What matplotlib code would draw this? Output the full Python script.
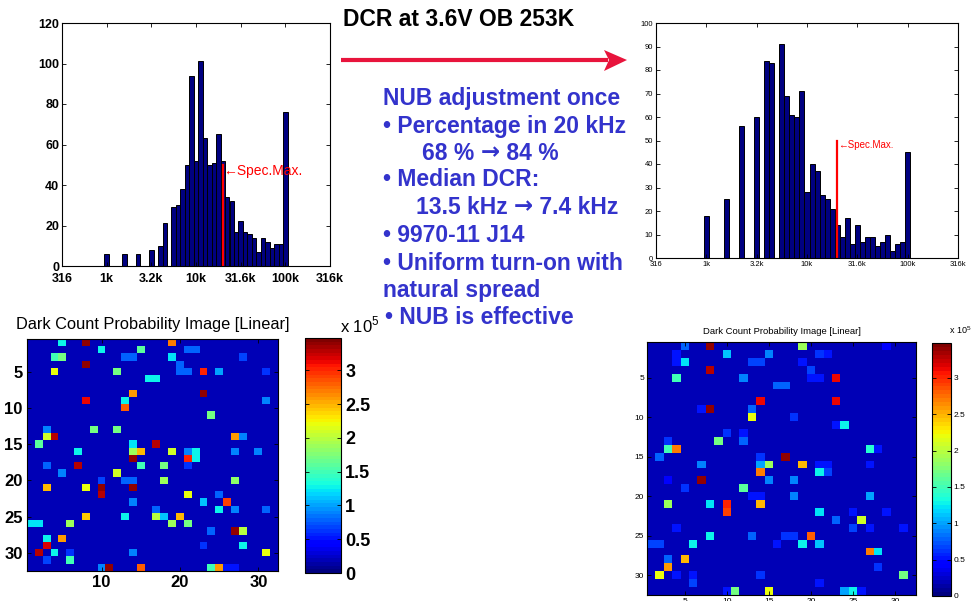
import numpy as np
import matplotlib.pyplot as plt
from matplotlib.patches import Polygon

plt.rcParams['font.family'] = ['Liberation Sans', 'DejaVu Sans']

##-------------------------------------------------------------------------
## Data
##-------------------------------------------------------------------------
# histogram bins: log10(DCR) from 3.0 (1k) to 5.0 (100k), 20 bins per decade
bin_start = 3.0
bin_step = 0.05
spec_max_hz = 20000.
spec_top = 50

counts_before = [6, 0, 0, 0, 6, 0, 0, 6, 0, 0, 8, 0, 10, 21, 0, 29, 30, 38, 50, 94,
                 52, 101, 63, 50, 51, 65, 52, 34, 32, 17, 22, 17, 16, 14, 7, 14, 12, 9,
                 11, 11, 76]
counts_after = [18, 0, 0, 0, 25, 0, 0, 56, 0, 0, 60, 0, 84, 83, 0, 91, 69, 61, 60, 71,
                28, 40, 37, 27, 25, 21, 14, 9, 17, 6, 14, 7, 9, 9, 5, 7, 10, 3, 6, 7, 45]

hist_tick_pos = [2.5, 3.0, 3.5, 4.0, 4.5, 5.0, 5.5]
hist_tick_labels = ['316', '1k', '3.2k', '10k', '31.6k', '100k', '316k']

# dark count images (units of 1e5), 32x32 pixels: background level plus
# the visible hot pixels as (row, col, value)
n_pix = 32
background = 0.2
vmax = 3.48
hot_before = [
    (1, 5, 1.3), (1, 8, 3.4), (1, 19, 2.7), (2, 10, 1.3), (2, 15, 1.6), (2, 21, 0.8),
    (2, 22, 0.8), (3, 4, 1.5), (3, 5, 1.7), (3, 13, 0.8), (3, 14, 0.8), (3, 19, 1.2),
    (3, 28, 0.7), (4, 20, 0.8), (4, 8, 3.4), (5, 4, 2.2), (5, 12, 1.7), (5, 20, 0.8),
    (5, 21, 0.8), (5, 23, 3.0), (5, 25, 1.0), (5, 31, 0.6), (6, 16, 1.3), (6, 17, 1.3),
    (8, 14, 2.6), (8, 23, 3.4), (9, 8, 3.1), (9, 13, 1.3), (10, 13, 2.8), (9, 31, 0.9),
    (11, 24, 1.7), (13, 9, 1.7), (13, 12, 1.7), (13, 3, 0.9), (14, 3, 2.1), (14, 4, 3.3),
    (15, 2, 1.6), (14, 27, 2.6), (14, 28, 0.9), (15, 17, 3.3), (15, 14, 1.2), (16, 7, 1.3),
    (16, 14, 1.9), (16, 15, 2.5), (16, 19, 2.1), (16, 21, 0.9), (16, 22, 1.3), (17, 22, 1.3),
    (17, 21, 3.0), (17, 14, 3.4), (16, 27, 0.9), (16, 30, 0.9), (18, 7, 3.3), (18, 15, 1.5),
    (18, 18, 1.7), (18, 3, 0.8), (18, 21, 0.6), (19, 5, 0.9), (19, 12, 2.1), (20, 13, 0.8),
    (20, 14, 0.8), (20, 10, 0.7), (20, 18, 1.9), (20, 27, 1.8), (21, 3, 2.5), (21, 8, 2.2),
    (21, 10, 3.4), (22, 10, 3.3), (21, 14, 3.4), (22, 21, 2.2), (22, 25, 0.8), (23, 26, 2.9),
    (23, 23, 1.1), (23, 14, 0.9), (24, 25, 1.3), (24, 27, 0.9), (24, 17, 0.8), (24, 31, 0.8),
    (25, 8, 2.4), (25, 13, 1.3), (25, 17, 2.0), (25, 18, 1.1), (25, 20, 2.5), (26, 1, 1.2),
    (26, 2, 1.2), (26, 6, 1.9), (26, 19, 1.9), (26, 21, 1.7), (27, 27, 3.4), (27, 28, 2.0),
    (27, 24, 0.8), (28, 3, 1.3), (28, 5, 2.6), (29, 3, 3.2), (29, 28, 1.3), (29, 23, 0.6),
    (30, 2, 3.3), (30, 4, 1.3), (30, 6, 0.6), (30, 14, 0.9), (30, 31, 2.2), (31, 3, 0.7),
    (31, 6, 1.5), (32, 10, 0.9), (32, 11, 3.4), (32, 15, 2.8), (32, 24, 1.5), (32, 25, 2.6),
    (32, 26, 0.5), (32, 27, 0.5),
]
hot_after = [
    (1, 5, 0.8), (1, 8, 3.4), (1, 19, 1.9), (1, 29, 0.4), (2, 10, 1.1), (2, 15, 0.9),
    (2, 21, 0.6), (2, 22, 0.5), (2, 4, 0.5), (3, 5, 1.2), (3, 4, 0.5), (3, 13, 0.7),
    (3, 14, 0.7), (3, 19, 0.5), (4, 8, 3.3), (4, 20, 0.7), (5, 4, 1.5), (5, 12, 0.9),
    (5, 23, 3.1), (5, 20, 0.5), (5, 21, 0.5), (6, 16, 0.8), (6, 17, 0.8), (8, 14, 3.1),
    (8, 23, 3.1), (9, 8, 3.4), (9, 7, 0.5), (9, 13, 0.8), (10, 13, 2.2), (10, 18, 0.6),
    (11, 24, 1.3), (11, 23, 0.5), (12, 10, 0.6), (12, 12, 0.5), (13, 3, 0.6), (13, 9, 1.7),
    (13, 12, 0.8), (14, 3, 1.5), (14, 4, 2.7), (14, 27, 1.4), (14, 28, 0.5), (15, 2, 0.8),
    (15, 17, 3.4), (15, 14, 0.6), (16, 7, 0.9), (16, 14, 1.0), (16, 15, 1.9), (16, 19, 2.5),
    (16, 21, 0.5), (16, 22, 0.5), (16, 27, 0.5), (17, 14, 2.7), (17, 21, 1.3), (17, 22, 0.7),
    (18, 7, 3.4), (18, 15, 0.9), (18, 18, 0.9), (18, 3, 0.4), (19, 5, 0.6), (19, 12, 1.6),
    (20, 18, 0.9), (20, 27, 1.0), (20, 13, 0.5), (20, 14, 0.5), (21, 3, 1.9), (21, 8, 1.2),
    (21, 10, 3.0), (21, 14, 2.5), (22, 10, 2.9), (22, 21, 1.2), (22, 25, 0.5), (22, 29, 0.5),
    (23, 26, 2.1), (23, 23, 0.8), (24, 4, 0.5), (24, 25, 0.7), (24, 27, 0.5), (24, 31, 0.5),
    (25, 8, 1.3), (25, 13, 0.8), (25, 17, 0.6), (25, 18, 0.6), (25, 20, 2.8), (26, 1, 0.7),
    (26, 2, 0.7), (26, 6, 1.3), (26, 19, 1.3), (26, 21, 1.1), (26, 16, 0.5), (27, 27, 2.7),
    (27, 28, 1.2), (28, 3, 0.8), (28, 5, 2.5), (29, 3, 2.6), (29, 28, 0.6), (30, 2, 2.2),
    (30, 4, 0.5), (30, 6, 0.5), (30, 14, 0.6), (30, 31, 1.7), (31, 6, 0.7), (31, 21, 0.5),
    (32, 10, 0.5), (32, 11, 1.7), (32, 15, 2.2), (32, 24, 1.0), (32, 25, 1.3), (32, 26, 0.5),
]
cbar_ticks = [0, 0.5, 1, 1.5, 2, 2.5, 3]

W, H = 975, 601
navy = '#000080'
slide_blue = '#3333cc'
arrow_red = '#e8143c'
scale_label = r'x 10$^{\mathregular{5}}$'


def px_axes(fig, left, top, right, bottom):
    """ axes from pixel box measured from the top-left of the slide """
    return fig.add_axes([left / W, 1 - bottom / H, (right - left) / W, (bottom - top) / H])


def build_image(hot):
    img = np.full((n_pix, n_pix), background)
    for r, c, v in hot:
        img[r - 1, c - 1] = v
    return img


def draw_hist(ax, counts, ymax, ystep, fs, weight, text_y, fs_spec, xpad):
    centers = bin_start + bin_step * np.arange(len(counts))
    ax.bar(centers, counts, width=bin_step, color=navy, edgecolor='black', linewidth=0.7)
    spec = np.log10(spec_max_hz)
    ax.plot([spec, spec], [0, spec_top], color='red', lw=1.6)
    ax.text(spec + 0.005, text_y, '←Spec.Max.', color='red', fontsize=fs_spec,
            va='center', ha='left')
    ax.set_xlim(2.5, 5.5)
    ax.set_ylim(0, ymax)
    ax.set_xticks(hist_tick_pos)
    ax.set_xticklabels(hist_tick_labels, fontsize=fs, fontweight=weight)
    ax.set_yticks(np.arange(0, ymax + 1, ystep))
    ax.set_yticklabels([str(v) for v in np.arange(0, ymax + 1, ystep)],
                       fontsize=fs, fontweight=weight)
    ax.tick_params(direction='in', top=True, right=True, length=3, width=0.6, pad=2)
    ax.tick_params(axis='x', pad=xpad)
    for s in ax.spines.values():
        s.set_linewidth(0.8)


def draw_image(fig, ax, cax, img, xticks, fs, fs_cb, weight, title, fs_title, pad):
    im = ax.imshow(img, cmap=plt.get_cmap('jet', 64), vmin=0, vmax=vmax,
                   extent=[0.5, n_pix + 0.5, n_pix + 0.5, 0.5], aspect='auto',
                   interpolation='nearest')
    ax.set_xticks(xticks)
    ax.set_xticklabels([str(v) for v in xticks], fontsize=fs, fontweight=weight)
    ax.set_yticks([5, 10, 15, 20, 25, 30])
    ax.set_yticklabels(['5', '10', '15', '20', '25', '30'], fontsize=fs, fontweight=weight)
    ax.tick_params(direction='in', top=True, right=True, length=3, width=0.6, pad=pad)
    ax.set_title(title, fontsize=fs_title, pad=pad + 4)
    cb = fig.colorbar(im, cax=cax)
    cb.set_ticks(cbar_ticks)
    cb.set_ticklabels(['0', '0.5', '1', '1.5', '2', '2.5', '3'])
    cax.tick_params(direction='in', left=True, right=True, length=3, width=0.6,
                    labelsize=fs_cb, pad=pad)
    for lab in cax.get_yticklabels():
        lab.set_fontweight(weight)
    cb.outline.set_linewidth(0.8)


fig = plt.figure(figsize=(W / 100., H / 100.), dpi=100)

##-------------------------------------------------------------------------
## Histograms
##-------------------------------------------------------------------------
ax1 = px_axes(fig, 62, 23, 330, 266)
draw_hist(ax1, counts_before, 120, 20, 9, 'bold', 47, 10, 5)

ax2 = px_axes(fig, 656, 23, 958, 258)
draw_hist(ax2, counts_after, 100, 10, 5.5, 'normal', 48, 7, 2)

##-------------------------------------------------------------------------
## Dark count images
##-------------------------------------------------------------------------
ax3 = px_axes(fig, 27, 339, 278, 571)
cax3 = px_axes(fig, 305, 338, 341, 573)
draw_image(fig, ax3, cax3, build_image(hot_before), [10, 20, 30], 12, 13, 'bold',
           'Dark Count Probability Image [Linear]', 11.8, 3)
fig.text(340 / W, 1 - 325 / H, scale_label, fontsize=12, va='center', ha='left')

ax4 = px_axes(fig, 647, 342, 916, 595)
cax4 = px_axes(fig, 932, 343, 951, 596)
draw_image(fig, ax4, cax4, build_image(hot_after), [5, 10, 15, 20, 25, 30], 6, 6, 'normal',
           'Dark Count Probability Image [Linear]', 6.8, 2)
fig.text(949 / W, 1 - 330 / H, scale_label, fontsize=6.5, va='center', ha='left')

##-------------------------------------------------------------------------
## Slide text and arrow
##-------------------------------------------------------------------------
over = fig.add_axes([0, 0, 1, 1], zorder=5)
over.set_xlim(0, W)
over.set_ylim(H, 0)
over.axis('off')

over.text(343, 20, 'DCR at 3.6V OB 253K', fontsize=16.5, fontweight='bold',
          va='center', ha='left', color='black')

over.plot([341, 608], [60, 60], color=arrow_red, lw=3, solid_capstyle='butt')
over.add_patch(Polygon([[604, 50], [627, 60], [604, 71], [609, 60]], closed=True,
                       color=arrow_red, lw=0))

notes = [
    ('NUB adjustment once', 383, 98),
    ('• Percentage in 20 kHz', 383, 126),
    ('68 %|84 %', 422, 153),
    ('• Median DCR:', 383, 180),
    ('13.5 kHz|7.4 kHz', 416, 207),
    ('• 9970-11 J14', 383, 235),
    ('• Uniform turn-on with', 383, 263),
    ('natural spread', 383, 290),
    ('• NUB is effective', 385, 318),
]
note_style = dict(fontsize=16.5, fontweight='bold', color=slide_blue)
for txt, x, y in notes:
    parts = txt.split('|')
    t1 = over.text(x, y, parts[0] + ' ', va='center', ha='left', **note_style)
    if len(parts) > 1:
        # the slide uses a heavy arrow glyph between the two values
        t2 = over.annotate('→', xy=(1, 0.5), xycoords=t1, va='center', ha='left',
                           family='DejaVu Sans', **note_style)
        over.annotate(' ' + parts[1], xy=(1, 0.5), xycoords=(t2, t1), va='center',
                      ha='left', **note_style)

fig.savefig('out.png', dpi=100)
